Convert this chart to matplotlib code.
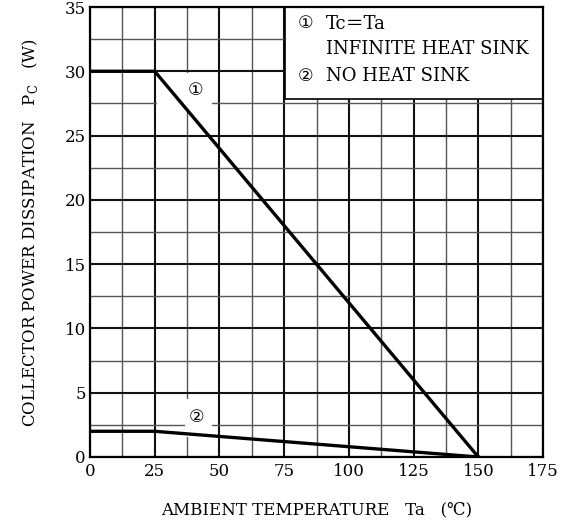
import matplotlib.pyplot as plt
from matplotlib.patches import Rectangle
from matplotlib.ticker import MultipleLocator

# derating curves (Ta in degC, Pc in W)
ta_1 = [0, 25, 150]
pc_1 = [30, 30, 0]
ta_2 = [0, 25, 150]
pc_2 = [2, 2, 0]

x_ticks = [0, 25, 50, 75, 100, 125, 150, 175]
y_ticks = [0, 5, 10, 15, 20, 25, 30, 35]

fam = ['DejaVu Serif', 'DejaVu Sans', 'Noto Sans CJK JP']
plt.rcParams['font.family'] = fam

fig = plt.figure(figsize=(5.61, 5.23), dpi=100)
ax = fig.add_axes([0.1604, 0.1262, 0.8076, 0.8604])

ax.set_xlim(0, 175)
ax.set_ylim(0, 35)
ax.set_xticks(x_ticks)
ax.set_yticks(y_ticks)
ax.xaxis.set_minor_locator(MultipleLocator(12.5))
ax.yaxis.set_minor_locator(MultipleLocator(2.5))
ax.set_axisbelow(True)
ax.grid(which='major', color='#111111', linewidth=1.5)
ax.grid(which='minor', color='#555555', linewidth=1.0)
ax.tick_params(which='both', length=0, labelsize=12)
ax.tick_params(axis='x', pad=4)
ax.tick_params(axis='y', pad=3)
for sp in ax.spines.values():
    sp.set_linewidth(1.6)
    sp.set_zorder(6)

ax.plot(ta_1, pc_1, color='black', linewidth=2.4, zorder=4)
ax.plot(ta_2, pc_2, color='black', linewidth=2.4, zorder=4)

# white patches behind the curve tags, hiding the grid there
ax.add_patch(Rectangle((26, 26.8), 21.1, 3.05, facecolor='white',
                       edgecolor='none', zorder=2))
ax.add_patch(Rectangle((36.7, 1.55), 10.4, 2.95, facecolor='white',
                       edgecolor='none', zorder=2))
ax.text(40.6, 28.48, '①', fontsize=12.5, ha='center', va='center', zorder=3)
ax.text(41.2, 3.06, '②', fontsize=12.5, ha='center', va='center', zorder=3)

# legend box
ax.add_patch(Rectangle((75.3, 27.85), 99.7, 7.15, facecolor='white',
                       edgecolor='black', linewidth=1.2, zorder=3))
ax.text(80.3, 33.7, '①', fontsize=12.5, va='center', zorder=5)
ax.text(91.0, 33.7, 'Tc＝Ta', fontsize=13, va='center', zorder=5)
ax.text(91.0, 31.7, 'INFINITE HEAT SINK', fontsize=13, va='center', zorder=5)
ax.text(80.3, 29.6, '②', fontsize=12.5, va='center', zorder=5)
ax.text(91.0, 29.6, 'NO HEAT SINK', fontsize=13, va='center', zorder=5)

ax.set_xlabel('AMBIENT TEMPERATURE   Ta   (℃)', fontsize=12, labelpad=16)
ax.set_ylabel('COLLECTOR POWER DISSIPATION   P$_\\mathregular{C}$   (W)',
              fontsize=12, labelpad=18)

fig.savefig('out.png', dpi=100)
